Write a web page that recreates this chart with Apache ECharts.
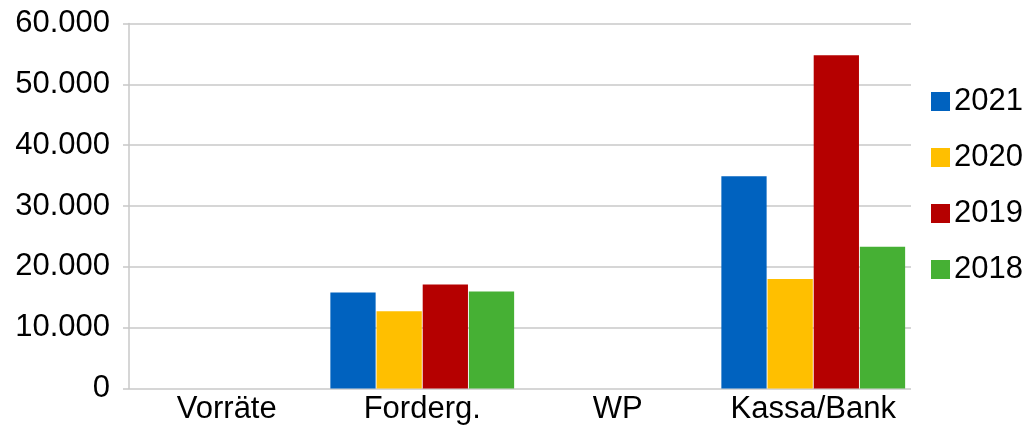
<!DOCTYPE html>
<html><head><meta charset="utf-8">
<script src="https://cdn.jsdelivr.net/npm/echarts@6/dist/echarts.min.js"></script>
<style>html,body{margin:0;padding:0;background:#fff}#c{width:1030px;height:425px}</style>
</head><body><div id="c"></div>
<script>
const categories = ['Vorräte', 'Forderg.', 'WP', 'Kassa/Bank'];
const seriesNames = ['2021', '2020', '2019', '2018'];
const v2021 = [0, 15800, 0, 34900];
const v2020 = [0, 12700, 0, 18000];
const v2019 = [0, 17100, 0, 54800];
const v2018 = [0, 15950, 0, 23300];
const colors = ['#0062BF', '#FFBF00', '#B50000', '#46B034'];
const values = [v2021, v2020, v2019, v2018];
const fmt = v => String(v).replace(/\B(?=(\d{3})+(?!\d))/g, '.');
const font = 'Liberation Sans, Arial, sans-serif';
const chart = echarts.init(document.getElementById('c'));
chart.setOption({
  animation: false,
  grid: {left: 129, right: 119, top: 23.5, bottom: 36.5},
  legend: {
    orient: 'vertical', left: 926, top: 81,
    itemWidth: 19, itemHeight: 19, itemGap: 25, icon: 'rect',
    textStyle: {fontFamily: font, fontSize: 31, color: '#000', lineHeight: 31, padding: [0,0,0,-1]},
    data: seriesNames
  },
  xAxis: {
    type: 'category', data: categories,
    axisLine: {show: false}, axisTick: {show: false},
    axisLabel: {fontFamily: font, fontSize: 31, color: '#000', margin: 5, interval: 0}
  },
  yAxis: {
    type: 'value', min: 0, max: 60000, interval: 10000,
    axisLine: {show: true, lineStyle: {color: '#c8c8c8', width: 1.5}},
    axisTick: {show: true, length: 6, lineStyle: {color: '#c8c8c8', width: 1.5}},
    splitLine: {lineStyle: {color: '#c8c8c8', width: 1.5}},
    axisLabel: {fontFamily: font, fontSize: 31, color: '#000', margin: 19, formatter: fmt}
  },
  series: seriesNames.map((n, i) => ({
    name: n, type: 'bar', data: values[i],
    itemStyle: {color: colors[i]},
    barGap: '2%', barCategoryGap: '6%'
  }))
});
</script></body></html>
